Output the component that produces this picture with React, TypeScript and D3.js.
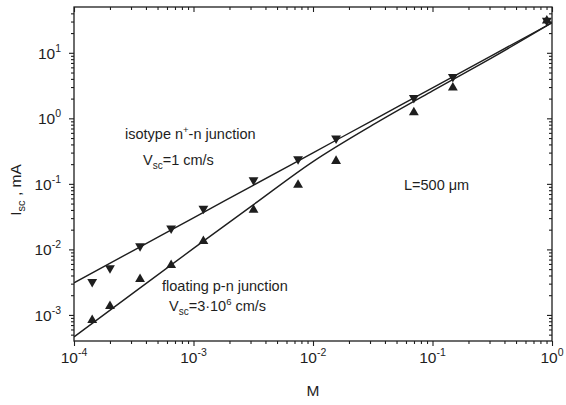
import React, { useEffect, useRef } from "react";
import * as d3 from "d3";

const width = 566;
const height = 405;
const margin = { left: 74, right: 14, top: 7, bottom: 64 };
const ink = "#1e1e1e";
const font = "'Liberation Sans', Arial, sans-serif";

// tick decades (exponents)
const xDecades = [-4, -3, -2, -1, 0];
const yDecades = [-3, -2, -1, 0, 1];

// measured points
const mPoints = [1.42e-4, 2.0e-4, 3.57e-4, 6.5e-4, 1.21e-3, 3.18e-3, 7.5e-3, 1.56e-2, 6.98e-2, 0.148, 0.905];
const isotypeIsc = [3.2e-3, 5.2e-3, 1.12e-2, 2.1e-2, 4.2e-2, 0.114, 0.239, 0.494, 2.06, 4.3, 30.9];
const floatingIsc = [8.3e-4, 1.36e-3, 3.5e-3, 5.75e-3, 1.34e-2, 0.04, 0.096, 0.223, 1.23, 2.93, 30.9];

// calculated curves
const fitM = [1e-4, 3.16e-4, 1e-3, 3.16e-3, 1e-2, 3.16e-2, 0.1, 0.316, 1];
const isotypeFit = [3.09e-3, 9.68e-3, 0.0303, 0.0951, 0.298, 0.933, 2.92, 9.16, 28.7];
const floatingFit = [4.62e-4, 2.19e-3, 1.035e-2, 0.0479, 0.219, 0.794, 2.63, 8.45, 28.8];

function minorTicks(lo: number, hi: number) {
  const out: number[] = [];
  for (let k = -6; k <= 2; k++) {
    for (let m = 2; m <= 9; m++) {
      const v = m * Math.pow(10, k);
      if (v > lo && v < hi) out.push(v);
    }
  }
  return out;
}

export default function App() {
  const axesRef = useRef<SVGGElement>(null);

  const x = d3.scaleLog().domain([1e-4, 1]).range([margin.left, width - margin.right]);
  const y = d3.scaleLog().domain([4e-4, 50]).range([height - margin.bottom, margin.top]);

  const xMajor = xDecades.map((e) => Math.pow(10, e));
  const yMajor = yDecades.map((e) => Math.pow(10, e));
  const xMinor = minorTicks(1e-4, 1);
  const yMinor = minorTicks(4e-4, 50);

  useEffect(() => {
    const g = d3.select(axesRef.current);
    g.selectAll("*").remove();
    const add = (axis: any, tr: string) => {
      const s = g.append("g").attr("transform", tr).call(axis);
      s.select(".domain").remove();
      s.selectAll("text").remove();
      s.selectAll("line").attr("stroke", ink).attr("stroke-width", 1.1);
    };
    const bottom = `translate(0,${height - margin.bottom})`;
    const top = `translate(0,${margin.top})`;
    const left = `translate(${margin.left},0)`;
    const right = `translate(${width - margin.right},0)`;
    // bottom & left: outward ticks, top & right: inward
    add(d3.axisBottom(x).tickValues(xMajor).tickSize(5), bottom);
    add(d3.axisBottom(x).tickValues(xMinor).tickSize(3), bottom);
    add(d3.axisTop(x).tickValues(xMajor).tickSize(-5), top);
    add(d3.axisTop(x).tickValues(xMinor).tickSize(-3), top);
    add(d3.axisLeft(y).tickValues(yMajor).tickSize(5), left);
    add(d3.axisLeft(y).tickValues(yMinor).tickSize(3), left);
    add(d3.axisRight(y).tickValues(yMajor).tickSize(-5), right);
    add(d3.axisRight(y).tickValues(yMinor).tickSize(-3), right);
  }, []);

  const line = d3
    .line<number>()
    .x((_, i) => x(fitM[i]))
    .y((d) => y(d))
    .curve(d3.curveMonotoneX);

  const up = d3.symbol(d3.symbolTriangle, 42)() as string;

  return (
    <svg
      width={width}
      height={height}
      style={{ position: "absolute", left: 0, top: 0, background: "#fff" }}
      fontFamily={font}
      fill={ink}
    >
      <defs>
        <clipPath id="plot">
          <rect
            x={margin.left}
            y={margin.top}
            width={width - margin.left - margin.right}
            height={height - margin.top - margin.bottom}
          />
        </clipPath>
      </defs>

      <g clipPath="url(#plot)" fill="none" stroke={ink} strokeWidth={1.4}>
        <path d={line(isotypeFit) || ""} />
        <path d={line(floatingFit) || ""} />
      </g>

      {mPoints.map((m, i) => (
        <path key={"d" + i} d={up} transform={`translate(${x(m)},${y(isotypeIsc[i])}) rotate(180)`} fill={ink} />
      ))}
      {mPoints.map((m, i) => (
        <path key={"u" + i} d={up} transform={`translate(${x(m)},${y(floatingIsc[i])})`} fill={ink} />
      ))}

      <rect
        x={margin.left}
        y={margin.top}
        width={width - margin.left - margin.right}
        height={height - margin.top - margin.bottom}
        fill="none"
        stroke={ink}
        strokeWidth={1.3}
      />
      <g ref={axesRef} />

      {xDecades.map((e) => (
        <text key={"xl" + e} x={x(Math.pow(10, e))} y={height - margin.bottom + 22} textAnchor="middle" fontSize={15.5}>
          10
          <tspan dy={-7} fontSize={10.5}>
            {e === 0 ? "0" : "-" + Math.abs(e)}
          </tspan>
        </text>
      ))}
      {yDecades.map((e) => (
        <text key={"yl" + e} x={margin.left - 13} y={y(Math.pow(10, e)) + 6} textAnchor="end" fontSize={15.5}>
          10
          <tspan dy={-7} fontSize={10.5}>
            {e < 0 ? "-" + Math.abs(e) : String(e)}
          </tspan>
        </text>
      ))}

      <text x={(margin.left + width - margin.right) / 2} y={396} textAnchor="middle" fontSize={15.5}>
        M
      </text>
      <text transform="translate(21,190) rotate(-90)" textAnchor="middle" fontSize={15.5}>
        I
        <tspan dy={4} fontSize={11}>
          sc
        </tspan>
        <tspan dy={-4}> , mA</tspan>
      </text>

      <g fontSize={14.5}>
        <text x={125} y={139}>
          isotype n<tspan dy={-6} fontSize={9.5}>+</tspan>
          <tspan dy={6}>-n junction</tspan>
        </text>
        <text x={143} y={165}>
          V<tspan dy={4} fontSize={10}>sc</tspan>
          <tspan dy={-4}>=1 cm/s</tspan>
        </text>
        <text x={162} y={291}>
          floating p-n junction
        </text>
        <text x={169} y={311}>
          V<tspan dy={4} fontSize={10}>sc</tspan>
          <tspan dy={-4}>=3·10</tspan>
          <tspan dy={-6} fontSize={9.5}>6</tspan>
          <tspan dy={6}> cm/s</tspan>
        </text>
        <text x={404} y={190}>
          L=500 μm
        </text>
      </g>
    </svg>
  );
}
